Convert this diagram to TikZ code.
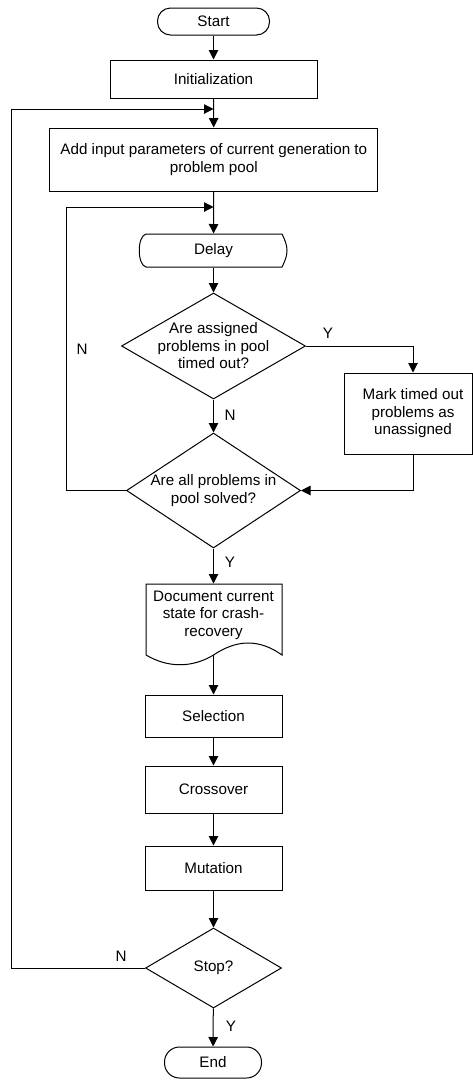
\documentclass[tikz,border=0pt]{standalone}
\usepackage{fontspec}
\setmainfont{Liberation Sans}
\usetikzlibrary{arrows.meta,shapes.geometric,calc}

\begin{document}
\begin{tikzpicture}[x=1pt,y=-1pt,line width=1pt,
  every node/.style={font=\fontsize{15.2}{17.5}\selectfont},
  box/.style={draw,rectangle,inner sep=0pt,align=center},
  term/.style={draw,rectangle,inner sep=0pt},
  dec/.style={draw,diamond,inner sep=0pt},
  arr/.style={-{Triangle[length=9.5pt,width=9.5pt]}},
  lbl/.style={inner sep=0pt}]

\useasboundingbox (0,0) rectangle (473,1080);

% main column
\node[term,rounded corners=13pt,minimum width=112pt,minimum height=27pt] (start) at (213.5,21.5) {Start};
\node[box,minimum width=207pt,minimum height=38pt] (init) at (213.5,79) {Initialization};
\node[box,minimum width=327.7pt,minimum height=63pt] (add) at (213.8,159.5)
  {Add input parameters of current generation to\\problem pool};

% delay shape
\node[inner sep=0pt,minimum width=147pt,minimum height=33pt] (delay) at (213.5,250.5) {Delay};
\draw (146,234) -- (282,234) .. controls (285,240) and (287,245) .. (287,250.5)
  .. controls (287,256) and (285,261) .. (282,267) -- (146,267)
  .. controls (137,265) and (137,236) .. (146,234) -- cycle;

\node[dec,minimum width=184pt,minimum height=106pt,
  label={[align=center]center:Are assigned\\problems in pool\\timed out?}] (d1) at (213.5,346) {};
\node[box,minimum width=128pt,minimum height=81pt,
  label={[align=center,xshift=5pt]center:Mark timed out\\problems as\\unassigned}] (mark) at (408,413.5) {};
\node[dec,minimum width=174pt,minimum height=115pt,
  label={[align=center]center:Are all problems in\\pool solved?}] (d2) at (213.5,490.5) {};

% document shape
\node[align=center,inner sep=0pt,minimum width=136pt,minimum height=62pt] (doc) at (213.5,615)
  {Document current\\state for crash-\\recovery};
\draw (146,655) -- (146,584) -- (282,584) -- (282,655)
  .. controls (258,638) and (236,640) .. (213.5,655)
  .. controls (192,668) and (168,668) .. (146,655) -- cycle;
\coordinate (docb) at (213.5,655);

\node[box,minimum width=137pt,minimum height=42pt] (sel) at (213.5,716) {Selection};
\node[box,minimum width=137pt,minimum height=47pt] (cross) at (213.5,789.5) {Crossover};
\node[box,minimum width=137pt,minimum height=44pt] (mut) at (213.5,868) {Mutation};
\node[dec,minimum width=136pt,minimum height=80pt] (stop) at (213.5,968) {Stop?};
\node[term,rounded corners=15pt,minimum width=97pt,minimum height=31pt] (end) at (213,1062.5) {End};

% junctions on the main line
\coordinate (j1) at (213.5,109);
\coordinate (j2) at (213.5,207);

% connectors
\draw[arr] (start) -- (init);
\draw[arr] (init) -- (add);
\draw[arr] (add) -- (delay);
\draw[arr] (delay) -- (d1);
\draw[arr] (d1.east) -| ($(mark.north)+(5,0)$);
\draw[arr] (d1) -- (d2);
\draw[arr] ($(mark.south)+(5,0)$) |- (d2.east);
\draw[arr] (d2.west) -- ++(-60,0) |- (j2);
\draw[arr] (d2) -- (doc);
\draw[arr] (docb) -- (sel);
\draw[arr] (sel) -- (cross);
\draw[arr] (cross) -- (mut);
\draw[arr] (mut) -- (stop);
\draw[arr] (stop) -- (end);
\draw[arr] (stop.west) -- ++(-134,0) |- (j1);

% branch labels
\node[lbl] (y1) at (328,333) {Y};
\node[lbl] (n1) at (82,349) {N};
\node[lbl] (n2) at (230,415) {N};
\node[lbl] (y2) at (230,562) {Y};
\node[lbl] (n3) at (121,956) {N};
\node[lbl] (y3) at (231,1026) {Y};
\end{tikzpicture}
\end{document}
